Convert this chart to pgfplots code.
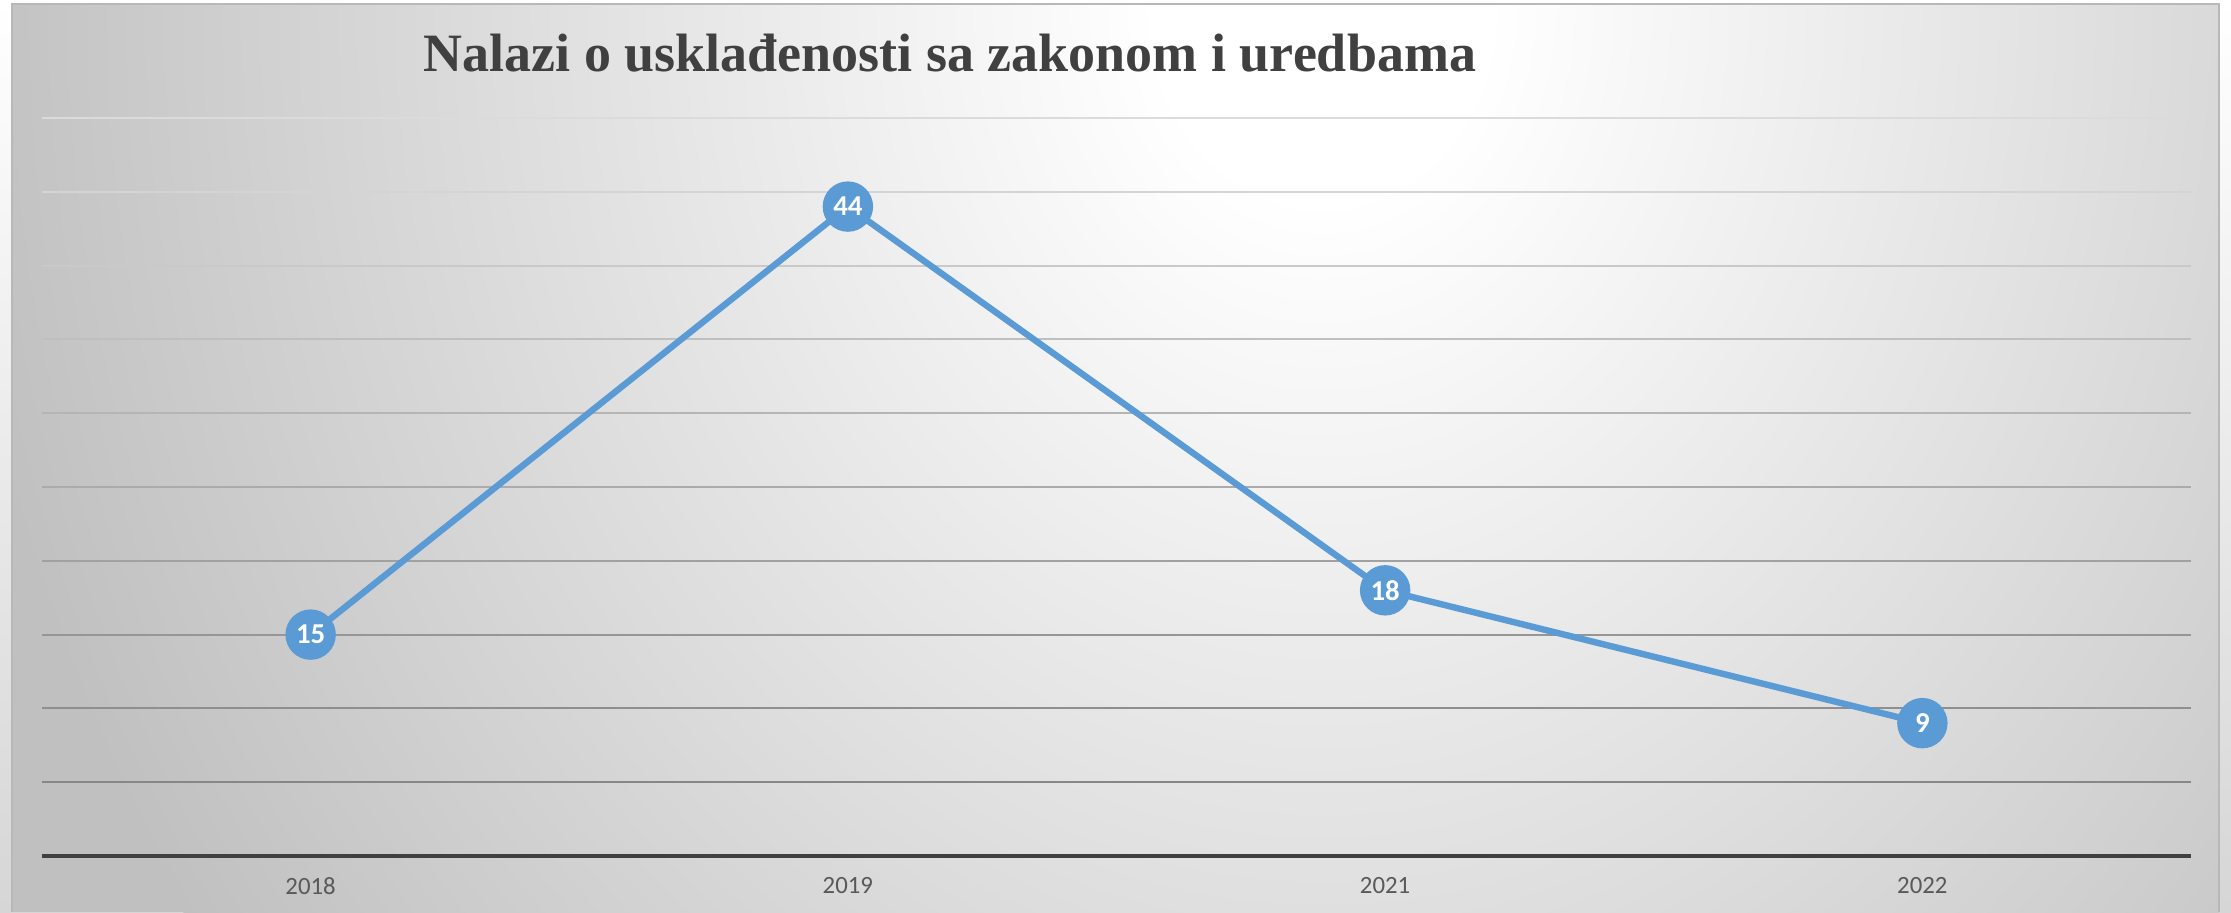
\documentclass[border=0pt]{standalone}
\usepackage{pgfplots}
\pgfplotsset{compat=1.18}
\usepackage{fontspec}
\setmainfont{Carlito}
\newfontfamily\titlefont{Liberation Serif}

\definecolor{lineblue}{HTML}{5B9BD5}
\definecolor{titlegray}{HTML}{404040}
\definecolor{ticklab}{HTML}{595959}
\definecolor{bgouter}{HTML}{C0C0C0}
\definecolor{pagebot}{HTML}{D6D6D6}
\pgfdeclareradialshading{glow}{\pgfpoint{0bp}{0bp}}{color(0bp)=(white);color(3bp)=(white);color(25bp)=(bgouter);color(50bp)=(bgouter)}

\begin{document}
\begin{tikzpicture}
\path[use as bounding box] (-10.5pt,-14pt) rectangle (547.25pt,214pt);
% page behind the chart
\shade[top color=white, bottom color=pagebot] (-10.5pt,-14pt) rectangle (547.25pt,214pt);
% chart area with the radial glow
\begin{scope}
\clip (-7.5pt,-14pt) rectangle (544.25pt,213pt);
\fill[bgouter] (-7.5pt,-14pt) rectangle (544.25pt,213pt);
\shade[shading=glow] (320pt,212pt) ellipse (345pt and 400pt);
\end{scope}
\draw[black!28, line width=0.5pt] (-7.5pt,-14pt) -- (-7.5pt,213pt) -- (544.25pt,213pt) -- (544.25pt,-14pt);

\begin{axis}[
at={(0,0)}, anchor=south west,
scale only axis,
width=537.25pt,
height=184.5pt,
xmin=-0.5, xmax=3.5,
ymin=0, ymax=50,
clip=false,
axis line style={draw=none},
tick style={draw=none},
major tick length=0pt,
ytick=\empty,
xtick={0,1,2,3},
xticklabels={2018,2019,2021,2022},
x tick label style={font=\fontsize{6.2}{7}\selectfont, text=ticklab, yshift=-1.9pt},
/pgf/number format/assume math mode=true,
]
% gridlines, lighter towards the top
\draw[line width=0.5pt, black!14] (axis cs:-0.5,50) -- (axis cs:3.5,50);
\draw[line width=0.5pt, black!17] (axis cs:-0.5,45) -- (axis cs:3.5,45);
\draw[line width=0.5pt, black!21] (axis cs:-0.5,40) -- (axis cs:3.5,40);
\draw[line width=0.5pt, black!25] (axis cs:-0.5,35) -- (axis cs:3.5,35);
\draw[line width=0.5pt, black!29] (axis cs:-0.5,30) -- (axis cs:3.5,30);
\draw[line width=0.5pt, black!33] (axis cs:-0.5,25) -- (axis cs:3.5,25);
\draw[line width=0.5pt, black!37] (axis cs:-0.5,20) -- (axis cs:3.5,20);
\draw[line width=0.5pt, black!41] (axis cs:-0.5,15) -- (axis cs:3.5,15);
\draw[line width=0.5pt, black!44] (axis cs:-0.5,10) -- (axis cs:3.5,10);
\draw[line width=0.5pt, black!47] (axis cs:-0.5,5) -- (axis cs:3.5,5);
\draw[line width=1pt, titlegray] (axis cs:-0.5,0) -- (axis cs:3.5,0);

\node[anchor=base, font=\titlefont\bfseries\fontsize{13.5}{16}\selectfont, text=titlegray]
  at (axis description cs:0.4225,1.0637) {Nalazi o usklađenosti sa zakonom i uredbama};

\addplot[lineblue, line width=1.6pt, mark=*, mark size=5.5pt,
  mark options={fill=lineblue, draw=none},
  nodes near coords,
  nodes near coords style={anchor=center, text=white, font=\bfseries\fontsize{7.2}{8}\selectfont}]
  coordinates {(0,15) (1,44) (2,18) (3,9)};
\end{axis}
\end{tikzpicture}
\end{document}
